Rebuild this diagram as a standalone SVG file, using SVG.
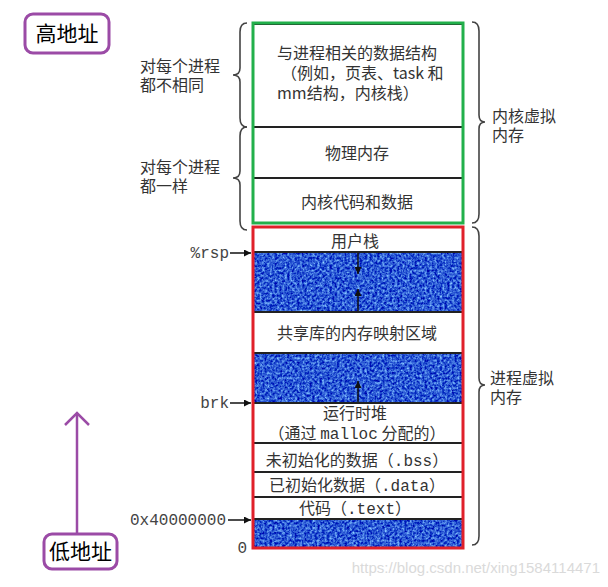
<svg xmlns="http://www.w3.org/2000/svg" width="608" height="587" viewBox="0 0 608 587">
<style>
.t{font-family:"Noto Sans CJK SC","Noto Sans",sans-serif;font-size:16px;fill:#333;}
.c{text-anchor:middle;}
.m{font-family:"Liberation Mono","DejaVu Sans Mono",monospace;}
.lab{font-family:"Liberation Mono","DejaVu Sans Mono",monospace;font-size:16px;fill:#444;}
.brace{fill:none;stroke:#444;stroke-width:1.6;}
.sep{stroke:#222;stroke-width:2;}
.purple{fill:none;stroke:#9b4ba6;stroke-width:3;}
.big{font-family:"Noto Sans CJK SC",sans-serif;font-size:21px;fill:#000;}
.blue{fill:#1f5bc6;filter:url(#tex);}
</style>
<defs>
<filter id="tex" x="0" y="0" width="1" height="1" color-interpolation-filters="sRGB">
<feTurbulence type="fractalNoise" baseFrequency="0.4" numOctaves="3" seed="4" result="n"/>
<feColorMatrix in="n" type="matrix" values="1.0 0 0 0 -0.33  1.2 0 0 0 -0.25  0.5 0 0 0 0.58  0 0 0 0 1" result="col"/>
<feComposite in="col" in2="SourceGraphic" operator="in"/>
</filter>
<marker id="ah" viewBox="0 0 10 10" refX="10" refY="5" markerWidth="7" markerHeight="7" orient="auto" markerUnits="userSpaceOnUse">
<path d="M0,0 L10,5 L0,10 z" fill="#111"/>
</marker>
</defs>
<rect width="608" height="587" fill="#fff"/>

<g id="high-addr">
<rect x="25" y="14" width="84" height="39" rx="8" class="purple"/>
<text x="67" y="41" class="big" text-anchor="middle">高地址</text>
</g>
<g id="low-addr">
<rect x="44" y="534" width="73" height="35" rx="8" class="purple"/>
<text x="80.5" y="559" class="big" text-anchor="middle">低地址</text>
</g>

<g id="kernel">
<rect x="253" y="23" width="210" height="200" fill="#fff"/>
<text class="t"><tspan x="277" y="59">与进程相关的数据结构</tspan><tspan x="281" y="79">（例如，页表、task 和</tspan><tspan x="277" y="99">mm结构，内核栈）</tspan></text>
<text class="t c" x="357" y="159">物理内存</text>
<text class="t c" x="357" y="208">内核代码和数据</text>
</g>

<g id="user">
<rect x="253" y="227" width="210" height="321" fill="#fff"/>
<rect x="253" y="252" width="210" height="60" class="blue"/>
<rect x="253" y="353" width="210" height="50" class="blue"/>
<rect x="253" y="519" width="210" height="29" class="blue"/>
<text class="t c" x="355" y="247">用户栈</text>
<text class="t c" x="357" y="339">共享库的内存映射区域</text>
<text class="t c"><tspan x="355" y="419">运行时堆</tspan><tspan x="357" y="439">（通过 <tspan class="m">malloc</tspan> 分配的）</tspan></text>
<text class="t c" x="357" y="466">未初始化的数据（<tspan class="m">.bss</tspan>）</text>
<text class="t c" x="357" y="491">已初始化数据（<tspan class="m">.data</tspan>）</text>
<text class="t c" x="355" y="514">代码（<tspan class="m">.text</tspan>）</text>
</g>

<g id="connectors">
<line class="sep" x1="253" y1="24" x2="463" y2="24"/>
<line class="sep" x1="253" y1="127" x2="463" y2="127"/>
<line class="sep" x1="253" y1="178" x2="463" y2="178"/>
<line class="sep" x1="253" y1="252" x2="463" y2="252"/>
<line class="sep" x1="253" y1="312" x2="463" y2="312"/>
<line class="sep" x1="253" y1="353" x2="463" y2="353"/>
<line class="sep" x1="253" y1="403" x2="463" y2="403"/>
<line class="sep" x1="253" y1="443" x2="463" y2="443"/>
<line class="sep" x1="253" y1="472" x2="463" y2="472"/>
<line class="sep" x1="253" y1="497" x2="463" y2="497"/>
<line class="sep" x1="253" y1="519" x2="463" y2="519"/>
<line x1="358" y1="253" x2="358" y2="274" stroke="#111" stroke-width="1.5" marker-end="url(#ah)"/>
<line x1="358" y1="311" x2="358" y2="289" stroke="#111" stroke-width="1.5" marker-end="url(#ah)"/>
<line x1="358" y1="402" x2="358" y2="381" stroke="#111" stroke-width="1.5" marker-end="url(#ah)"/>
<line x1="230" y1="253" x2="251" y2="253" stroke="#111" stroke-width="1.5" marker-end="url(#ah)"/>
<line x1="230" y1="403" x2="251" y2="403" stroke="#111" stroke-width="1.5" marker-end="url(#ah)"/>
<line x1="228" y1="520" x2="251" y2="520" stroke="#111" stroke-width="1.5" marker-end="url(#ah)"/>
<rect x="253" y="23" width="210" height="200" fill="none" stroke="#22b04b" stroke-width="3"/>
<rect x="253" y="227" width="210" height="321" fill="none" stroke="#e0202a" stroke-width="3"/>
<path class="brace" d="M247,23 Q240,23 240,32 L240,68 Q240,75 233,75 Q240,75 240,82 L240,118 Q240,127 247,127"/>
<path class="brace" d="M247,127 Q240,127 240,136 L240,171 Q240,178 233,178 Q240,178 240,185 L240,221 Q240,230 247,230"/>
<path class="brace" d="M472,22 Q479,22 479,31 L479,115 Q479,122 485,122 Q479,122 479,129 L479,214 Q479,223 472,223"/>
<path class="brace" d="M472,227 Q479,227 479,236 L479,378 Q479,385 485,385 Q479,385 479,392 L479,536 Q479,545 472,545"/>
<line x1="77" y1="534" x2="77" y2="414" stroke="#9b4ba6" stroke-width="2.5"/>
<polyline points="65,425 77,413 89,425" fill="none" stroke="#9b4ba6" stroke-width="2.5"/>
</g>

<g id="labels">
<text class="t"><tspan x="140" y="72">对每个进程</tspan><tspan x="140" y="91">都不相同</tspan></text>
<text class="t"><tspan x="140" y="173">对每个进程</tspan><tspan x="140" y="192">都一样</tspan></text>
<text class="t"><tspan x="492" y="122">内核虚拟</tspan><tspan x="492" y="141">内存</tspan></text>
<text class="t"><tspan x="490" y="384">进程虚拟</tspan><tspan x="490" y="403">内存</tspan></text>
<text class="lab" x="229" y="258" text-anchor="end">%rsp</text>
<text class="lab" x="229" y="408" text-anchor="end">brk</text>
<text class="lab" x="226" y="525" text-anchor="end">0x40000000</text>
<text class="lab" x="247" y="553" text-anchor="end">0</text>
<text x="600" y="573" text-anchor="end" font-family="Liberation Sans, Arial, sans-serif" font-size="15" fill="#dadada">https://blog.csdn.net/xing1584114471</text>
</g>
</svg>
